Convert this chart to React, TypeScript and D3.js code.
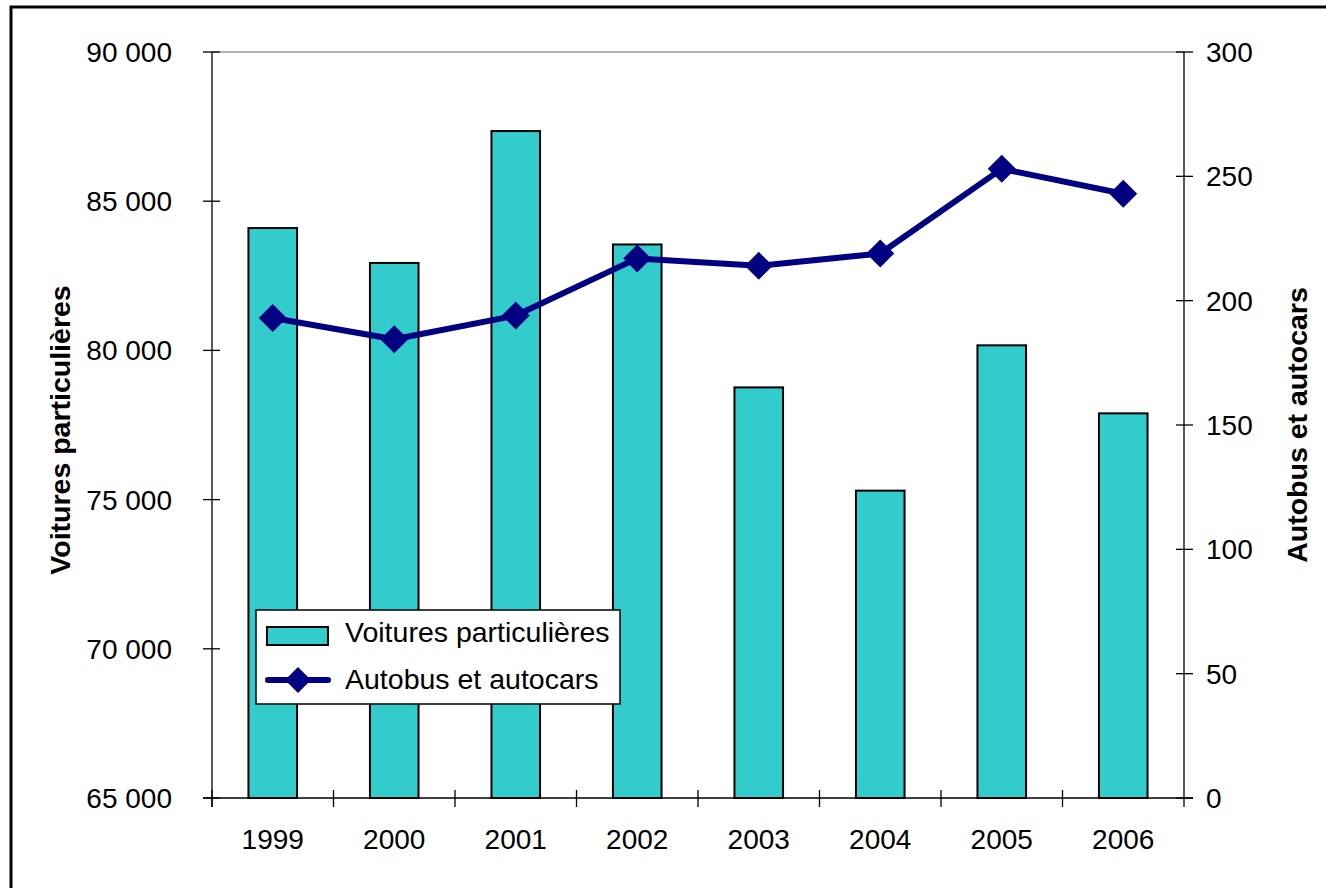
import React from "react";
import * as d3 from "d3";

const years = ["1999", "2000", "2001", "2002", "2003", "2004", "2005", "2006"];
const voitures = [84100, 82930, 87350, 83550, 78760, 75300, 80170, 77890];
const autobus = [193, 184.5, 194, 217, 214, 219, 253, 243];
const leftTicks = [65000, 70000, 75000, 80000, 85000, 90000];
const rightTicks = [0, 50, 100, 150, 200, 250, 300];

const W = 1326, H = 888;
const M = { left: 212, right: 1184, top: 52, bottom: 798 };
const FONT = "'Liberation Sans', Arial, sans-serif";

export default function App() {
  const x = d3.scaleBand<string>().domain(years).range([M.left, M.right]).paddingInner(0.6).paddingOuter(0.3);
  const yL = d3.scaleLinear().domain([65000, 90000]).range([M.bottom, M.top]);
  const yR = d3.scaleLinear().domain([0, 300]).range([M.bottom, M.top]);
  const step = (M.right - M.left) / years.length;
  const fmt = (v: number) => d3.format(",")(v).replace(/,/g, " ");
  const line = d3.line<number>().x((_, i) => x(years[i])! + x.bandwidth() / 2).y((d) => yR(d));
  const diamond = (cx: number, cy: number, r: number) =>
    `M${cx},${cy - r}L${cx + r},${cy}L${cx},${cy + r}L${cx - r},${cy}Z`;

  return (
    <svg width={W} height={H} style={{ position: "absolute", left: 0, top: 0, background: "#fff" }} fontFamily={FONT}>
      <rect x={0} y={0} width={W} height={H} fill="#fff" />
      <rect x={11} y={7} width={W + 20} height={H + 20} fill="none" stroke="#000" strokeWidth={3} />
      {/* plot top gray border */}
      <line x1={M.left} x2={M.right} y1={M.top} y2={M.top} stroke="#999" strokeWidth={1.5} />
      {/* bars */}
      {voitures.map((v, i) => (
        <rect key={i} x={x(years[i])!} y={yL(v)} width={x.bandwidth()} height={M.bottom - yL(v)}
          fill="#33CCCC" stroke="#000" strokeWidth={2} />
      ))}
      {/* axes */}
      <line x1={M.left} x2={M.left} y1={M.top} y2={M.bottom + 9} stroke="#000" strokeWidth={1.3} />
      <line x1={M.right} x2={M.right} y1={M.top} y2={M.bottom + 9} stroke="#000" strokeWidth={1.3} />
      <line x1={M.left - 9} x2={M.right + 9} y1={M.bottom} y2={M.bottom} stroke="#000" strokeWidth={1.3} />
      {leftTicks.map((t) => (
        <g key={t}>
          <line x1={M.left - 9} x2={M.left + 8} y1={yL(t)} y2={yL(t)} stroke="#000" strokeWidth={1.3} />
          <text x={172} y={yL(t)} dy="0.36em" textAnchor="end" fontSize={28}>{fmt(t)}</text>
        </g>
      ))}
      {rightTicks.map((t) => (
        <g key={t}>
          <line x1={M.right - 8} x2={M.right + 9} y1={yR(t)} y2={yR(t)} stroke="#000" strokeWidth={1.3} />
          <text x={1206} y={yR(t)} dy="0.36em" textAnchor="start" fontSize={28}>{t}</text>
        </g>
      ))}
      {years.map((yr, i) => (
        <g key={yr}>
          <line x1={M.left + step * i} x2={M.left + step * i} y1={M.bottom - 8} y2={M.bottom + 9} stroke="#000" strokeWidth={1.3} />
          <text x={x(yr)! + x.bandwidth() / 2} y={849} textAnchor="middle" fontSize={28}>{yr}</text>
        </g>
      ))}
      {/* line series */}
      <path d={line(autobus) ?? ""} fill="none" stroke="#000080" strokeWidth={6} strokeLinejoin="round" />
      {autobus.map((v, i) => (
        <path key={i} d={diamond(x(years[i])! + x.bandwidth() / 2, yR(v), 14)} fill="#000080" />
      ))}
      {/* axis titles */}
      <text transform="translate(70,430) rotate(-90)" textAnchor="middle" fontWeight="bold" fontSize={28.5}>Voitures particulières</text>
      <text transform="translate(1307,425) rotate(-90)" textAnchor="middle" fontWeight="bold" fontSize={28.5}>Autobus et autocars</text>
      {/* legend */}
      <rect x={256} y={610} width={364} height={94} fill="#fff" stroke="#000" strokeWidth={1.5} />
      <rect x={267} y={627} width={61} height={18} fill="#33CCCC" stroke="#000" strokeWidth={2} />
      <text x={345} y={632} dy="0.36em" fontSize={28.5}>Voitures particulières</text>
      <line x1={268} x2={328} y1={680} y2={680} stroke="#000080" strokeWidth={6} strokeLinecap="round" />
      <path d={diamond(298, 680, 13)} fill="#000080" />
      <text x={345} y={679} dy="0.36em" fontSize={28.5}>Autobus et autocars</text>
    </svg>
  );
}
